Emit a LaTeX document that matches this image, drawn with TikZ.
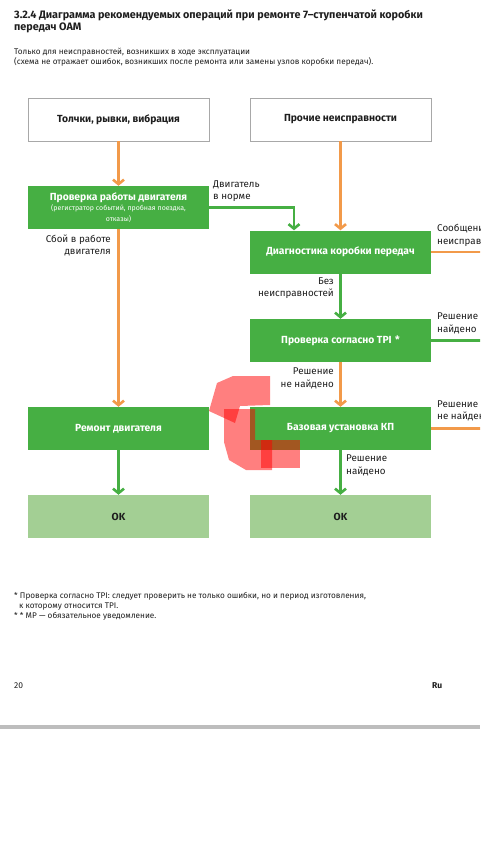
\documentclass[tikz,border=0pt]{standalone}
\usepackage{fontspec}
\setmainfont{Fira Sans}
\usetikzlibrary{arrows.meta}
\definecolor{gr}{HTML}{46AF43}
\definecolor{lgr}{HTML}{A3CF94}
\definecolor{org}{HTML}{F29A4A}
\definecolor{bord}{HTML}{A8A8A8}
\definecolor{bar}{HTML}{BDBDBD}
\definecolor{txt}{HTML}{1E1E1E}
\tikzset{
  box/.style={minimum width=181pt, minimum height=43pt, inner sep=0pt, align=center, font=\fontsize{10.3}{12}\selectfont\bfseries},
  whitebox/.style={box, draw=bord, line width=0.8pt, fill=white, text=txt},
  greenbox/.style={box, fill=gr, text=white},
  okbox/.style={box, fill=lgr, text=txt},
  ar/.style={line width=2.6pt, -{Straight Barb[length=4.5pt,width=11pt]}},
  og/.style={ar, draw=org},
  gn/.style={ar, draw=gr},
  ogl/.style={line width=2.6pt, draw=org},
  gnl/.style={line width=2.6pt, draw=gr},
  lbl/.style={inner sep=0pt, text=txt, font=\fontsize{9.8}{12.5}\selectfont},
  plain/.style={inner sep=0pt, text=txt, anchor=west},
  redmark/.style={fill=red, fill opacity=0.5, draw=none}
}
\begin{document}
\begin{tikzpicture}[x=1pt,y=-1pt]
\useasboundingbox (0,0) rectangle (480,854);
\begin{scope}
\clip (0,0) rectangle (480,854);
% title
\node[plain, align=left, font=\fontsize{10.8}{12}\selectfont\bfseries] (title) at (14,21) {3.2.4 Диаграмма рекомендуемых операций при ремонте 7–ступенчатой коробки\\передач OAM};
\node[plain, align=left, font=\fontsize{8.2}{10}\selectfont] (sub) at (14,57) {Только для неисправностей, возникших в ходе эксплуатации\\(схема не отражает ошибок, возникших после ремонта или замены узлов коробки передач).};
% boxes
\node[whitebox] (b1) at (118.5,119.5) {Толчки, рывки, вибрация};
\node[whitebox] (b2) at (340.5,119.5) {Прочие неисправности};
\node[greenbox] (b3) at (118.5,207.5) {\raisebox{0pt}[\height][\depth]{Проверка работы двигателя}\\[-1.5pt]{\fontsize{7}{7.6}\selectfont\mdseries (регистратор событий, пробная поездка,}\\[-1.5pt]{\fontsize{7}{7.6}\selectfont\mdseries отказы)}};
\node[greenbox] (b4) at (340.5,252) {Диагностика коробки передач};
\node[greenbox] (b5) at (340.5,340.5) {Проверка согласно TPI\,\,*};
\node[greenbox] (b6) at (118.5,428.5) {Ремонт двигателя};
\node[greenbox] (b7) at (340.5,428.5) {Базовая установка КП};
\node[okbox] (b8) at (118.5,516.5) {\raisebox{-1.5pt}{OK}};
\node[okbox] (b9) at (340.5,516.5) {OK};
% free ends
\coordinate (e4) at (485,252);
\coordinate (e5) at (485,340.5);
\coordinate (e7) at (485,428.5);
% connectors
\draw[og] (b1.south) -- (b3.north);
\draw[og] (b2.south) -- (b4.north);
\draw[gn] (b3.east) -| ([xshift=-46.5pt]b4.north);
\draw[og] (b3.south) -- (b6.north);
\draw[gn] (b4.south) -- (b5.north);
\draw[og] (b5.south) -- (b7.north);
\draw[gn] (b6.south) -- (b8.north);
\draw[gn] (b7.south) -- (b9.north);
\draw[ogl] (b4.east) -- (e4);
\draw[gnl] (b5.east) -- (e5);
\draw[ogl] (b7.east) -- (e7);
% labels
\node[lbl, anchor=west, align=left] (lA) at (213,191) {Двигатель\\в норме};
\node[lbl, anchor=east, align=right] (lB) at (111,245.5) {Сбой в работе\\двигателя};
\node[lbl, anchor=west, align=left] (lC) at (437,235.5) {Сообщение о\\неисправности};
\node[lbl, anchor=east, align=right] (lD) at (334,288) {Без\\неисправностей};
\node[lbl, anchor=west, align=left] (lE) at (437,323.5) {Решение\\найдено};
\node[lbl, anchor=east, align=right] (lF) at (334,378.5) {Решение\\не найдено};
\node[lbl, anchor=west, align=left] (lG) at (437,411) {Решение\\не найдено};
\node[lbl, anchor=west, align=left] (lH) at (346,465.5) {Решение\\найдено};
% red marks
\fill[redmark] (217,383) -- (233,376) -- (270,376) -- (270,405) -- (240,406) -- (235,423) -- (209,411) -- cycle;
\fill[redmark] (224,409) -- (255,409) -- (255,440) -- (272,440) -- (272,470) -- (246,470) -- (229,460) -- (224,442) -- cycle;
\fill[redmark] (261,440) -- (300,440) -- (300,468) -- (261,468) -- cycle;
% footnotes
\node[plain, align=left, font=\fontsize{8.2}{9.8}\selectfont] (fn) at (14,606.5) {* Проверка согласно TPI: следует проверить не только ошибки, но и период изготовления,\\\hspace*{5pt}к которому относится TPI.\\* * МР — обязательное уведомление.};
\node[plain, font=\fontsize{8.5}{10}\selectfont] (pg) at (14,686) {20};
\node[plain, font=\fontsize{8.5}{10}\selectfont\bfseries] (ru) at (432,686) {Ru};
\fill[bar] (0,725) rectangle (480,728.5);
\end{scope}
\end{tikzpicture}
\end{document}
